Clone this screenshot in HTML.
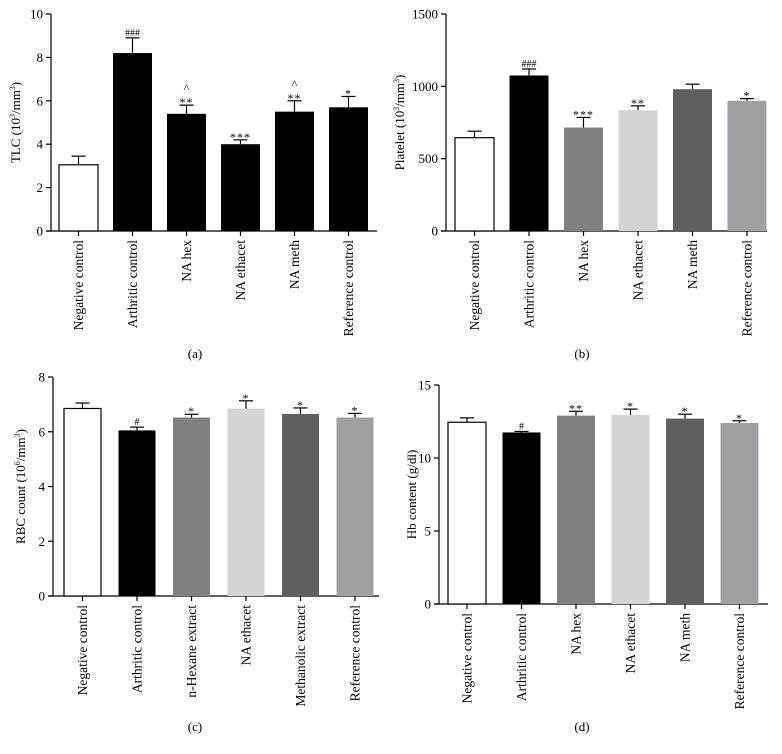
<!DOCTYPE html>
<html><head><meta charset="utf-8"><style>
body{margin:0;background:#fff}
svg{display:block;font-family:"Liberation Serif",serif}
</style></head><body>
<svg id="fig" width="782" height="754" viewBox="0 0 782 754" xmlns="http://www.w3.org/2000/svg"></svg>
<script>
const catsA=["Negative control","Arthritic control","NA hex","NA ethacet","NA meth","Reference control"];
const catsC=["Negative control","Arthritic control","n-Hexane extract","NA ethacet","Methanolic extract","Reference control"];
const tlcVals=[3.05,8.2,5.4,4.0,5.5,5.7];
const tlcErr=[0.4,0.7,0.4,0.2,0.5,0.5];
const tlcSig=["","###","^\n**","***","^\n**","*"];
const pltVals=[645,1075,715,835,980,900];
const pltErr=[45,45,70,30,35,15];
const pltSig=["","###","***","**","","*"];
const rbcVals=[6.85,6.05,6.52,6.85,6.65,6.52];
const rbcErr=[0.2,0.12,0.12,0.28,0.22,0.15];
const rbcSig=["","#","*","*","*","*"];
const hbVals=[12.45,11.75,12.9,12.95,12.7,12.4];
const hbErr=[0.3,0.07,0.3,0.4,0.3,0.15];
const hbSig=["","#","**","*","*","*"];
const tlcTicks=[0,2,4,6,8,10];
const pltTicks=[0,500,1000,1500];
const rbcTicks=[0,2,4,6,8];
const hbTicks=[0,5,10,15];
const colsBlack=["#fff","#000","#000","#000","#000","#000"];
const colsGray=["#fff","#000","#808080","#d4d4d4","#5f5f5f","#a0a0a4"];

const svg=document.getElementById('fig');
const NS="http://www.w3.org/2000/svg";
function mk(tag,attrs,parent){const e=document.createElementNS(NS,tag);for(const k in attrs)e.setAttribute(k,attrs[k]);parent.appendChild(e);return e;}

function panel(p){
  const g=mk('g',{},svg);
  
  
  const max=p.ticks[p.ticks.length-1];
  const y=v=>p.y0-(v/max)*(p.y0-p.yTop);
  const xc=i=>p.bx0+p.bw/2+i*p.pitch;
  const ax=mk('line',{x1:p.ax,y1:p.yTop,x2:p.ax,y2:p.y0,stroke:'#000','stroke-width':1.2},g);
  
  
  const xa=mk('line',{x1:p.ax-5,y1:p.y0,x2:p.xEnd,y2:p.y0,stroke:'#000','stroke-width':1.2},g);
  
  
  p.ticks.forEach(t=>{
    mk('line',{x1:p.ax-5,y1:y(t),x2:p.ax,y2:y(t),stroke:'#000','stroke-width':1.2},g);
    const tx=mk('text',{x:p.ax-8,y:y(t)+4.5,'text-anchor':'end','font-size':13},g);
    
    
    tx.textContent=t;
  });
  const yt=mk('text',{x:0,y:0,'text-anchor':'middle','font-size':13,transform:`translate(${p.titleX},${(p.y0+p.yTop)/2}) rotate(-90)`},g);
  
  
  yt.innerHTML=p.title;
  p.vals.forEach((v,i)=>{
    const cx=xc(i);
    const top=y(v), eTop=y(v+p.err[i]);
    mk('line',{x1:cx,y1:top,x2:cx,y2:eTop,stroke:'#000','stroke-width':1.2},g);
    mk('line',{x1:cx-7,y1:eTop,x2:cx+7,y2:eTop,stroke:'#000','stroke-width':1.2},g);
    const r=mk('rect',{x:cx-p.bw/2,y:top,width:p.bw,height:p.y0-top,fill:p.cols[i],stroke:i===0?'#000':'none','stroke-width':1.2},g);
    
    
    mk('line',{x1:cx,y1:p.y0,x2:cx,y2:p.y0+5,stroke:'#000','stroke-width':1.2},g);
    const sig=p.sig[i].split('\n');
    sig.reverse().forEach((s,k)=>{
      const isStar=s.startsWith('*');
      const st=mk('text',{x:cx,y:(isStar?eTop+1:eTop-2)-k*11,'text-anchor':'middle','font-size':s.startsWith('#')?10:12,'letter-spacing':isStar?1:0},g);
      
      
      st.textContent=s;
    });
    const lt=mk('text',{x:0,y:0,'text-anchor':'end','font-size':13.5,transform:`translate(${cx+4.5},${p.y0+9}) rotate(-90)`},g);
    
    
    lt.textContent=p.cats[i];
  });
  const cap=mk('text',{x:p.capX,y:p.capY,'text-anchor':'middle','font-size':13},g);
  
  
  cap.textContent=p.cap;
}
panel({name:'panel-a-tlc',cats:catsA,vals:tlcVals,err:tlcErr,sig:tlcSig,ticks:tlcTicks,cols:colsBlack,ax:51,y0:231,yTop:14,bx0:59,bw:39,pitch:54,xEnd:377,titleX:20,title:'TLC (10<tspan font-size="8" dy="-5">3</tspan><tspan dy="5">/mm</tspan><tspan font-size="8" dy="-5">3</tspan><tspan dy="5">)</tspan>',cap:'(a)',capX:195,capY:358});
panel({name:'panel-b-platelet',cats:catsA,vals:pltVals,err:pltErr,sig:pltSig,ticks:pltTicks,cols:colsGray,ax:446,y0:231,yTop:14,bx0:455,bw:39,pitch:54.5,xEnd:767,titleX:404,title:'Platelet (10<tspan font-size="8" dy="-5">3</tspan><tspan dy="5">/mm</tspan><tspan font-size="8" dy="-5">3</tspan><tspan dy="5">)</tspan>',cap:'(b)',capX:582,capY:358});
panel({name:'panel-c-rbc',cats:catsC,vals:rbcVals,err:rbcErr,sig:rbcSig,ticks:rbcTicks,cols:colsGray,ax:53,y0:596,yTop:377,bx0:64,bw:37,pitch:54.5,xEnd:379,titleX:25,title:'RBC count (10<tspan font-size="8" dy="-5">6</tspan><tspan dy="5">/mm</tspan><tspan font-size="8" dy="-5">3</tspan><tspan dy="5">)</tspan>',cap:'(c)',capX:195,capY:731});
panel({name:'panel-d-hb',cats:catsA,vals:hbVals,err:hbErr,sig:hbSig,ticks:hbTicks,cols:colsGray,ax:439,y0:604,yTop:385,bx0:448,bw:38,pitch:54.5,xEnd:768,titleX:416,title:'Hb content (g/dl)',cap:'(d)',capX:582,capY:731});
</script>
</body></html>
